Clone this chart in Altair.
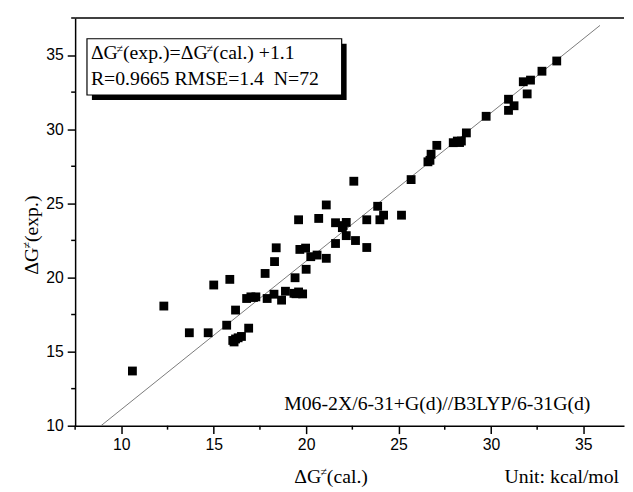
import altair as alt
import pandas as pd

# ---- data ----
calc = [10.6, 12.3, 13.68, 14.7, 15.0, 15.87, 15.7, 16.18,
        16.03, 16.18, 16.32, 16.5, 16.89, 16.78, 17.01, 17.28,
        17.78, 17.89, 18.26, 18.29, 18.38, 18.67, 18.88, 19.4,
        19.34, 19.59, 19.81, 19.59, 19.66, 19.97, 20.0, 20.25,
        20.59, 20.68, 21.09, 21.09, 21.59, 22.17, 21.96, 22.17,
        21.59, 22.67, 23.28, 23.28, 22.58, 23.87, 23.99, 24.19,
        25.16, 25.68, 26.59, 26.7, 26.76, 27.07, 27.96, 28.18,
        28.4, 28.67, 29.74, 30.95, 31.25, 30.95, 31.75, 32.14,
        31.96, 32.76, 33.56, 17.15, 19.45, 16.1, 28.3, 22.0]
expt = [13.69, 18.07, 16.27, 16.27, 19.49, 19.87, 16.78, 17.8,
        15.75, 15.85, 15.93, 16.02, 16.58, 18.58, 18.69, 18.69,
        20.27, 18.58, 18.87, 21.07, 22.0, 18.47, 19.07, 19.98,
        18.93, 19.02, 18.89, 23.89, 21.89, 21.98, 20.55, 21.4,
        21.51, 23.98, 24.89, 21.29, 23.69, 23.71, 23.36, 22.82,
        22.29, 22.49, 22.02, 23.89, 26.49, 24.8, 23.89, 24.2,
        24.2, 26.6, 27.8, 27.9, 28.31, 28.91, 29.09, 29.2,
        29.2, 29.75, 30.87, 32.02, 31.58, 31.27, 33.2, 33.31,
        32.38, 33.91, 34.6, 18.65, 18.9, 15.65, 29.1, 23.5]

fit_x = [8.9, 35.9]
fit_y = [10.0, 37.0]

x_major = [10, 15, 20, 25, 30, 35]
y_major = [10, 15, 20, 25, 30, 35]
x_minor = [7.5, 12.5, 17.5, 22.5, 27.5, 32.5]
y_minor = [12.5, 17.5, 22.5, 27.5, 32.5, 37.5]

W, H = 556, 413
XDOM = [7.5, 37.2]
YDOM = [10, 37.5]
SERIF = "Liberation Serif"

pts = pd.DataFrame({"calc": calc, "exp": expt})
fit = pd.DataFrame({"calc": fit_x, "exp": fit_y})

xs = alt.Scale(domain=XDOM, nice=False, zero=False)
ys = alt.Scale(domain=YDOM, nice=False, zero=False)

xaxis = alt.Axis(values=x_major, title=None, grid=False, tickSize=8, labelPadding=3,
                 format="d")
yaxis = alt.Axis(values=y_major, title=None, grid=False, tickSize=8, labelPadding=4,
                 format="d")

points = alt.Chart(pts).mark_square(size=80, color="black", opacity=1).encode(
    x=alt.X("calc:Q", scale=xs, axis=xaxis),
    y=alt.Y("exp:Q", scale=ys, axis=yaxis),
)

line = alt.Chart(fit).mark_line(color="#7a7a7a", strokeWidth=1).encode(
    x=alt.X("calc:Q", scale=xs), y=alt.Y("exp:Q", scale=ys)
)

xm = alt.Chart(pd.DataFrame({"v": x_minor})).mark_rule(color="black", strokeWidth=1.5).encode(
    x=alt.X("v:Q", scale=xs), y=alt.value(H), y2=alt.value(H + 4)
)
ym = alt.Chart(pd.DataFrame({"v": y_minor})).mark_rule(color="black", strokeWidth=1.5).encode(
    y=alt.Y("v:Q", scale=ys), x=alt.value(0), x2=alt.value(-4)
)

top = alt.Chart(pd.DataFrame({"a": [0]})).mark_rule(color="black", strokeWidth=1.5).encode(
    x=alt.value(0), x2=alt.value(W), y=alt.value(0)
)

dummy = pd.DataFrame({"a": [0]})
shadow = alt.Chart(dummy).mark_rect(color="black").encode(
    x=alt.value(17), x2=alt.value(275), y=alt.value(26), y2=alt.value(83)
)
box = alt.Chart(dummy).mark_rect(fill="white", stroke="black", strokeWidth=1.2).encode(
    x=alt.value(12), x2=alt.value(270), y=alt.value(21), y2=alt.value(78)
)


def txt(s, x, y, size=20, angle=0, align="left"):
    return alt.Chart(dummy).mark_text(
        text=s, font=SERIF, fontSize=size, color="black", align=align,
        baseline="alphabetic", angle=angle
    ).encode(x=alt.value(x), y=alt.value(y))


legend = [
    txt("ΔG", 16, 42),
    txt("≠", 42, 35, size=12),
    txt("(exp.)=ΔG", 48.5, 42),
    txt("≠", 133, 35, size=12),
    txt("(cal.) +1.1", 139.5, 42),
    txt("R=0.9665 RMSE=1.4\u00a0 N=72", 16, 68),
]

method = txt("M06-2X/6-31+G(d)//B3LYP/6-31G(d)", 522, 397, align="right")

xtitle = [
    txt("ΔG", 222, 471),
    txt("≠", 248.5, 464, size=12),
    txt("(cal.)", 255, 471),
]
unit = txt("Unit: kcal/mol", 551, 471, align="right")

ytitle = [
    txt("ΔG", -38, 260, angle=270),
    txt("≠", -45, 233.5, size=12, angle=270),
    txt("(exp.)", -38, 227, angle=270),
]

chart = alt.layer(
    line, points, xm, ym, top, shadow, box, *legend, method, *xtitle, unit, *ytitle
).properties(
    width=W, height=H,
    autosize=alt.AutoSizeParams(type="none"),
    padding={"left": 68, "top": 7, "right": 1, "bottom": 62},
).configure_view(stroke=None).configure_axis(
    labelFont="Liberation Sans", labelFontSize=16, labelColor="black",
    domainColor="black", domainWidth=1.5, tickColor="black", tickWidth=1.5,
)

chart.save("out.html", embed_options={"renderer": "svg", "actions": False})
